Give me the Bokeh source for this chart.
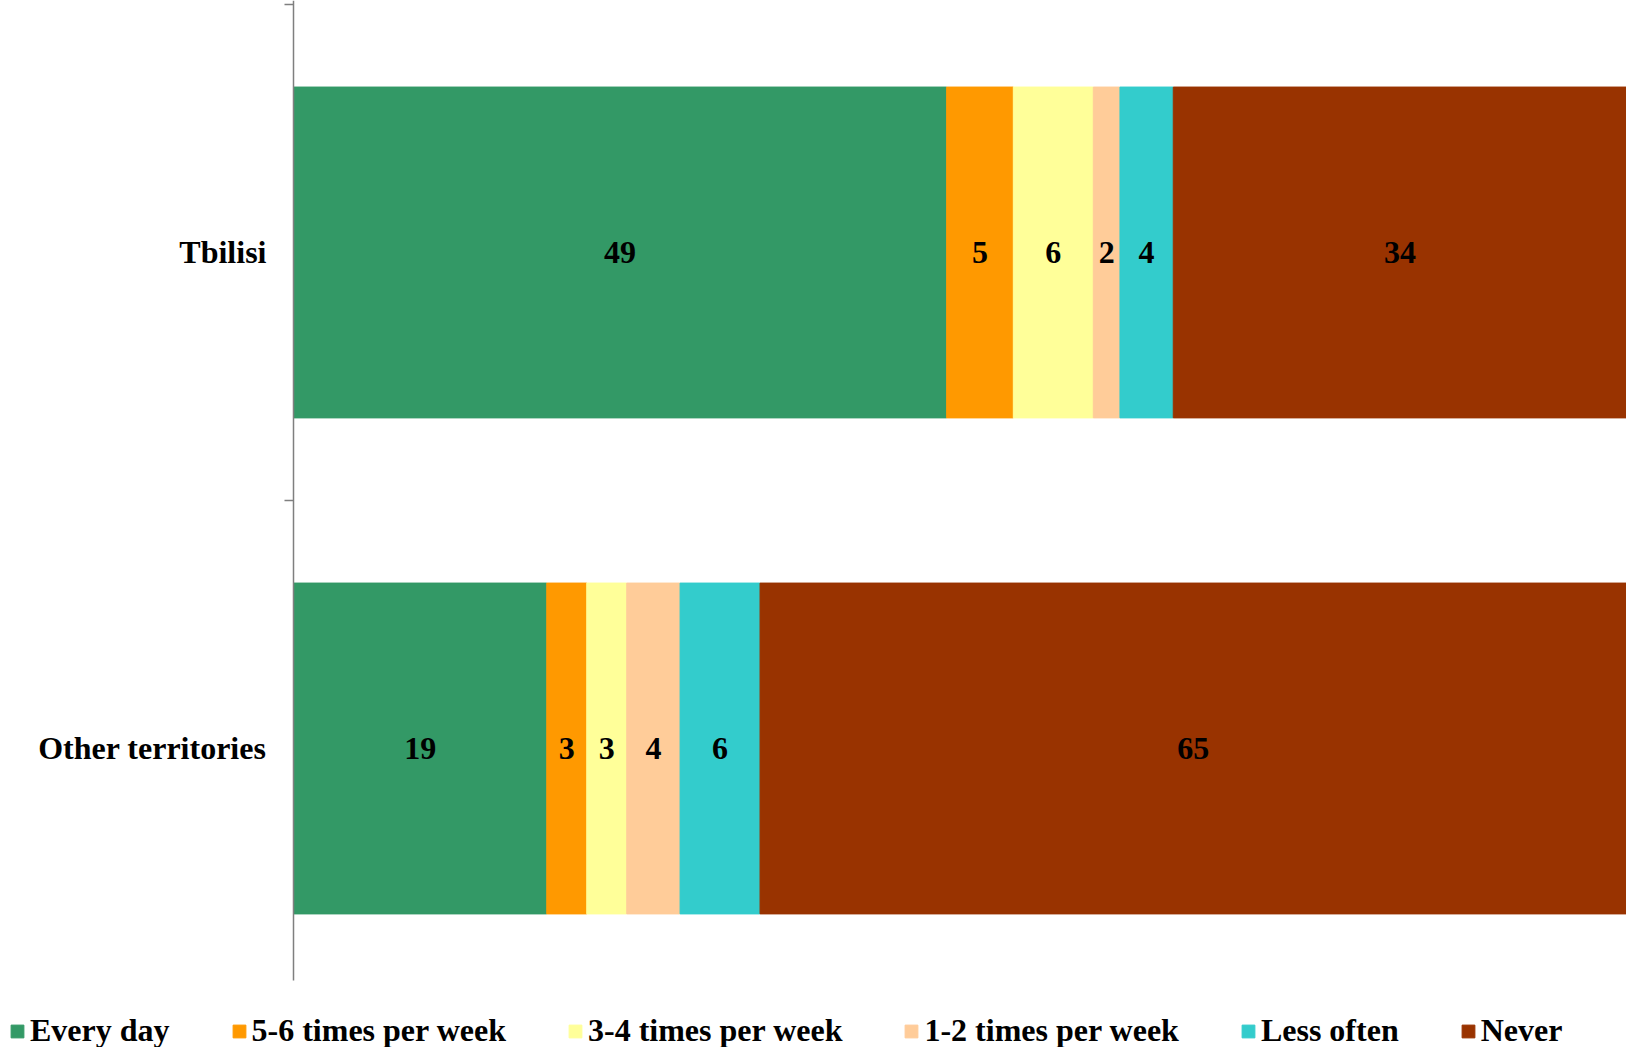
from bokeh.plotting import figure
from bokeh.models import ColumnDataSource, Range1d, FixedTicker, LinearAxis, Legend, LegendItem
from bokeh.core.properties import value
from bokeh.embed import file_html
from bokeh.resources import INLINE

categories = ["Tbilisi", "Other territories"]
series = ["Every day", "5-6 times per week", "3-4 times per week",
          "1-2 times per week", "Less often", "Never"]
every_day = [49, 19]
times_5_6 = [5, 3]
times_3_4 = [6, 3]
times_1_2 = [2, 4]
less_often = [4, 6]
never = [34, 65]
colors = ["#339966", "#FF9900", "#FFFF99", "#FFCC99", "#33CCCC", "#993300"]

values = [every_day, times_5_6, times_3_4, times_1_2, less_often, never]
n = len(categories)
ypos = [n - i - 0.5 for i in range(n)]
data = {"y": ypos}
for s, v in zip(series, values):
    data[s] = v
source = ColumnDataSource(data)

FONT = "Liberation Serif"

p = figure(width=1626, height=1047, x_range=Range1d(-21.98, 100), y_range=Range1d(-0.1028, 2.008),
           x_axis_type=None, y_axis_type=None, output_backend="svg", toolbar_location=None,
           min_border_left=0, min_border_right=0, min_border_top=0, min_border_bottom=0)
p.outline_line_color = None
p.grid.visible = False

renderers = p.hbar_stack(series, y="y", height=0.667, color=colors, source=source)

lx, ly, lt = [], [], []
for j in range(n):
    left = 0
    for v in values:
        lx.append(left + v[j] / 2)
        ly.append(ypos[j])
        lt.append(str(v[j]))
        left += v[j]
p.text(x=lx, y=ly, text=lt, text_font=value(FONT), text_font_style="bold",
       text_font_size="32px", text_align="center", text_baseline="middle", text_color="black")

axis = LinearAxis(
    ticker=FixedTicker(ticks=ypos, minor_ticks=list(range(1, n + 1))),
    major_label_overrides={y: c for y, c in zip(ypos, categories)},
    major_label_text_font=FONT, major_label_text_font_style="bold",
    major_label_text_font_size="32px", major_label_text_color="black",
    major_label_standoff=18,
    major_tick_out=0, major_tick_in=0,
    minor_tick_out=9, minor_tick_in=0,
    minor_tick_line_color="#7f7f7f", minor_tick_line_width=1.5,
    axis_line_color="#7f7f7f", axis_line_width=1.5,
    fixed_location=0, bounds=(0.032, 2.008),
)
p.add_layout(axis, "left")

items = [LegendItem(label=s, renderers=[r]) for s, r in zip(series, renderers)]
legend = Legend(items=items, orientation="horizontal", location=(9, -2),
                spacing=61, glyph_width=16, glyph_height=16, label_standoff=5,
                label_text_font=FONT, label_text_font_style="bold",
                label_text_font_size="32px", label_text_color="black",
                padding=0, margin=0, border_line_color=None, background_fill_alpha=0)
p.add_layout(legend, "center")

open("out.html", "w").write(file_html(p, INLINE))
